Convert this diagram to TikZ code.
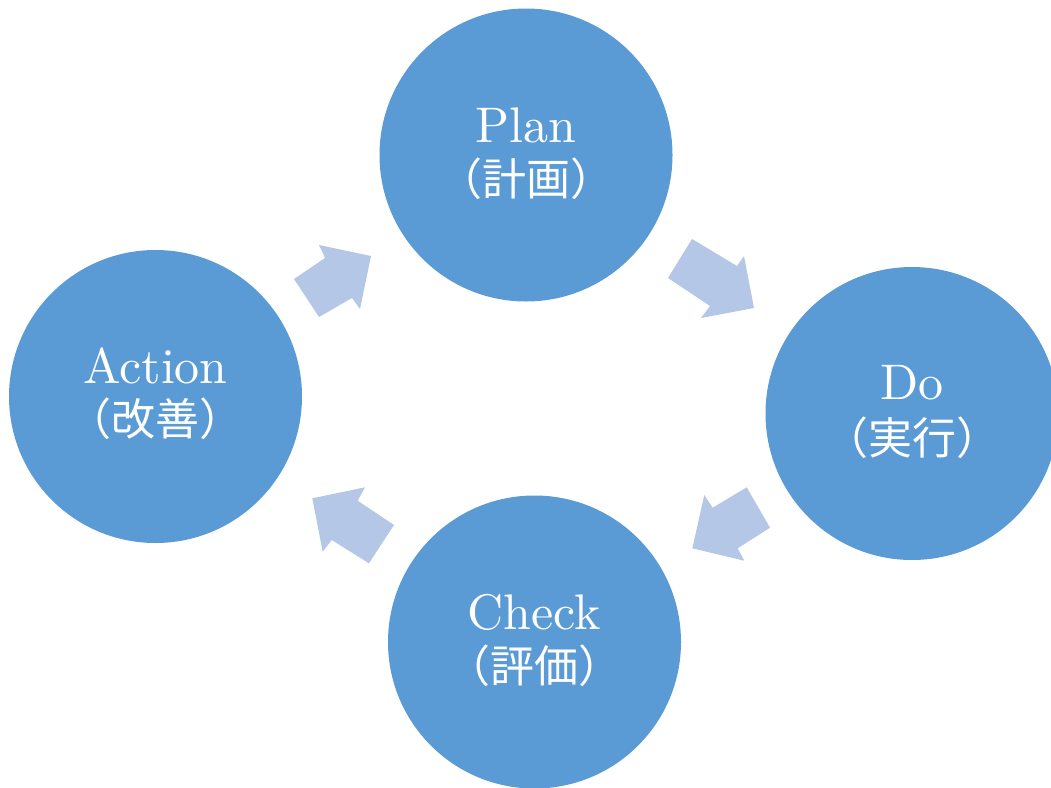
\documentclass[tikz,border=0pt]{standalone}
\usepackage{fontspec}
\newfontfamily\enfont{lmroman10-regular}[Extension=.otf]
\newfontfamily\jpfont{Noto Sans CJK JP}
\definecolor{circ}{HTML}{5B9BD5}
\definecolor{arr}{HTML}{B4C7E7}
\begin{document}
\begin{tikzpicture}[x=1pt,y=-1pt,
 phase/.style={circle,fill=circ,draw=none,inner sep=0pt,minimum size=293pt},
 entext/.style={anchor=base,text=white,inner sep=0pt,font=\enfont\fontsize{50}{60}\selectfont},
 jptext/.style={anchor=center,text=white,inner sep=0pt,font=\jpfont\fontsize{44}{50}\selectfont},
 cyclearrow/.style={fill=arr,draw=none}]
\useasboundingbox (0,0) rectangle (1051,787);
\node[phase] (plan) at (526,155) {};
\node[phase] (do) at (912,413.5) {};
\node[phase] (check) at (534.5,642) {};
\node[phase] (action) at (155.5,396.5) {};
\node[entext] (planen) at ([yshift=13pt]plan.center) {Plan};
\node[jptext] (planjp) at ([yshift=-24pt]plan.center) {（計画）};
\node[entext] (doen) at ([yshift=14pt]do.center) {Do};
\node[jptext] (dojp) at ([yshift=-24pt]do.center) {（実行）};
\node[entext] (checken) at ([yshift=13pt]check.center) {Check};
\node[jptext] (checkjp) at ([yshift=-24pt]check.center) {（評価）};
\node[entext] (actionen) at ([yshift=13pt]action.center) {Action};
\node[jptext] (actionjp) at ([yshift=-22pt]action.center) {（改善）};
% cycle arrows
\fill[cyclearrow] (294,279) -- (325,258) -- (319,245) -- (371,256) -- (360,309) -- (352,298) -- (319,317) -- cycle;
\fill[cyclearrow] (692,239) -- (737,266) -- (744,256) -- (754,308) -- (701,318) -- (710,306) -- (668,278) -- cycle;
\fill[cyclearrow] (746.7,487.3) -- (770,527.7) -- (737.7,548.3) -- (744.3,560.7) -- (692.3,548.3) -- (704.3,495) -- (712.7,507.7) -- cycle;
\fill[cyclearrow] (312.3,498.3) -- (365,487.3) -- (357.7,500.7) -- (394,525) -- (369,563.3) -- (331.7,540) -- (322.7,551.7) -- cycle;
\end{tikzpicture}
\end{document}
